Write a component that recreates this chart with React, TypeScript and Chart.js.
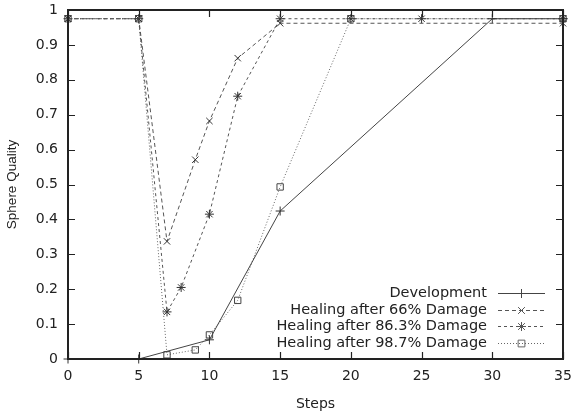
import React, { useEffect, useRef } from "react";
import { Chart, registerables } from "chart.js";

Chart.register(...registerables);

const xTicks = [0, 5, 10, 15, 20, 25, 30, 35];
const yTicks = [0, 0.1, 0.2, 0.3, 0.4, 0.5, 0.6, 0.7, 0.8, 0.9, 1];

const devX = [0, 5, 10, 15, 30, 35];
const devY = [0, 0, 0.055, 0.424, 0.975, 0.975];

const h66X = [0, 5, 7, 9, 10, 12, 15, 35];
const h66Y = [0.975, 0.975, 0.337, 0.571, 0.682, 0.862, 0.962, 0.962];

const h86X = [0, 5, 7, 8, 10, 12, 15, 20, 25, 35];
const h86Y = [0.975, 0.975, 0.135, 0.205, 0.415, 0.753, 0.975, 0.975, 0.975, 0.975];

const h98X = [0, 5, 7, 9, 10, 12, 15, 20, 35];
const h98Y = [0.975, 0.975, 0.012, 0.026, 0.069, 0.168, 0.493, 0.975, 0.975];

const labels = [
  "Development",
  "Healing after 66% Damage",
  "Healing after 86.3% Damage",
  "Healing after 98.7% Damage",
];

const FONT = "'DejaVu Sans', sans-serif";
const FONT_V = "'Liberation Sans', Arial, sans-serif";
const TEXT = "#222";

function pts(xs: number[], ys: number[]) {
  return xs.map((x, i) => ({ x, y: ys[i] }));
}

function drawMarker(ctx: CanvasRenderingContext2D, style: string, x: number, y: number, r: number) {
  ctx.beginPath();
  if (style === "cross" || style === "star") {
    ctx.moveTo(x - r, y);
    ctx.lineTo(x + r, y);
    ctx.moveTo(x, y - r);
    ctx.lineTo(x, y + r);
  }
  if (style === "crossRot" || style === "star") {
    const d = r * 0.75;
    ctx.moveTo(x - d, y - d);
    ctx.lineTo(x + d, y + d);
    ctx.moveTo(x - d, y + d);
    ctx.lineTo(x + d, y - d);
  }
  if (style === "rect") {
    const d = r * 0.75;
    ctx.rect(x - d, y - d, 2 * d, 2 * d);
  }
  ctx.stroke();
}

const framePlugin = {
  id: "frame",
  afterDraw(chart: any) {
    const { ctx, chartArea } = chart;
    const xs = chart.scales.x;
    const ys = chart.scales.y;
    ctx.save();
    ctx.strokeStyle = "#222";
    ctx.lineWidth = 2;
    ctx.setLineDash([]);
    ctx.strokeRect(chartArea.left, chartArea.top, chartArea.right - chartArea.left, chartArea.bottom - chartArea.top);
    ctx.lineWidth = 1.2;
    const tl = 7;
    ctx.beginPath();
    xTicks.forEach((v) => {
      const px = Math.round(xs.getPixelForValue(v)) + 0.5;
      ctx.moveTo(px, chartArea.bottom);
      ctx.lineTo(px, chartArea.bottom - tl);
      ctx.moveTo(px, chartArea.top);
      ctx.lineTo(px, chartArea.top + tl);
    });
    yTicks.forEach((v) => {
      const py = Math.round(ys.getPixelForValue(v)) + 0.5;
      ctx.moveTo(chartArea.left, py);
      ctx.lineTo(chartArea.left + tl, py);
      ctx.moveTo(chartArea.right, py);
      ctx.lineTo(chartArea.right - tl, py);
    });
    ctx.stroke();

    // legend
    const textRight = chartArea.right - 76;
    const lineL = chartArea.right - 65;
    const lineR = chartArea.right - 18;
    const mid = (lineL + lineR) / 2;
    const rowY = [293, 310, 326, 343];
    ctx.font = `14.5px ${FONT}`;
    ctx.fillStyle = TEXT;
    ctx.textAlign = "right";
    ctx.textBaseline = "middle";
    chart.data.datasets.forEach((ds: any, i: number) => {
      const y = rowY[i];
      ctx.fillText(ds.label, textRight, y + 0.5);
      ctx.strokeStyle = ds.borderColor;
      ctx.lineWidth = ds.borderWidth;
      ctx.setLineDash(ds.borderDash || []);
      ctx.beginPath();
      ctx.moveTo(lineL, y + 0.5);
      ctx.lineTo(lineR, y + 0.5);
      ctx.stroke();
      ctx.setLineDash([]);
      ctx.lineWidth = 1;
      drawMarker(ctx, ds.pointStyle, mid, y + 0.5, ds.pointRadius);
    });
    ctx.restore();
  },
};

export default function App() {
  const ref = useRef<HTMLCanvasElement | null>(null);
  useEffect(() => {
    document.body.style.margin = "0";
    const canvas = ref.current!;
    const common = {
      borderWidth: 1,
      pointBorderWidth: 1,
      pointRadius: 4.5,
      pointBackgroundColor: "rgba(0,0,0,0)",
      clip: false as any,
      fill: false,
      tension: 0,
    };
    const chart = new Chart(canvas, {
      type: "line",
      data: {
        datasets: [
          {
            ...common,
            label: labels[0],
            data: pts(devX, devY),
            borderColor: "#444",
            pointBorderColor: "#333",
            pointStyle: "cross",
            borderDash: [],
          },
          {
            ...common,
            label: labels[1],
            data: pts(h66X, h66Y),
            borderColor: "#555",
            pointBorderColor: "#333",
            pointStyle: "crossRot",
            borderDash: [4, 3],
          },
          {
            ...common,
            label: labels[2],
            data: pts(h86X, h86Y),
            borderColor: "#555",
            pointBorderColor: "#333",
            pointStyle: "star",
            borderDash: [3, 3],
          },
          {
            ...common,
            label: labels[3],
            data: pts(h98X, h98Y),
            borderColor: "#666",
            pointBorderColor: "#444",
            pointStyle: "rect",
            borderDash: [1, 2],
          },
        ] as any,
      },
      options: {
        animation: false,
        responsive: false,
        maintainAspectRatio: false,
        layout: { padding: { left: 0, right: 11, top: 10, bottom: 0 } },
        plugins: {
          legend: { display: false },
          tooltip: { enabled: false },
        },
        scales: {
          x: {
            type: "linear",
            min: 0,
            max: 35,
            afterBuildTicks: (s: any) => {
              s.ticks = xTicks.map((v) => ({ value: v }));
            },
            afterFit: (s: any) => {
              s.height = 54;
              s.paddingLeft = 0;
              s.paddingRight = 0;
            },
            grid: { display: false, drawTicks: false },
            border: { display: false },
            ticks: {
              padding: 9,
              color: TEXT,
              font: { family: FONT, size: 14 },
              maxRotation: 0,
              callback: (v: any) => String(v),
            },
            title: {
              display: true,
              text: "Steps",
              color: TEXT,
              font: { family: FONT, size: 14 },
              padding: { top: 2, bottom: 0 },
            },
          },
          y: {
            type: "linear",
            min: 0,
            max: 1,
            afterBuildTicks: (s: any) => {
              s.ticks = yTicks.map((v) => ({ value: v }));
            },
            afterFit: (s: any) => {
              s.width = 68;
              s.paddingTop = 0;
              s.paddingBottom = 0;
            },
            grid: { display: false, drawTicks: false },
            border: { display: false },
            ticks: {
              padding: 10,
              color: TEXT,
              font: { family: FONT, size: 14 },
              callback: (v: any) => String(Math.round(Number(v) * 10) / 10),
            },
            title: {
              display: true,
              text: "Sphere Quality",
              color: TEXT,
              font: { family: FONT_V, size: 13.5 },
              padding: { top: 4, bottom: 0 },
            },
          },
        },
      } as any,
      plugins: [framePlugin],
    });
    return () => chart.destroy();
  }, []);
  return (
    <div style={{ position: "absolute", left: 0, top: 0, width: 574, height: 413 }}>
      <canvas ref={ref} width={574} height={413} style={{ width: 574, height: 413, display: "block" }} />
    </div>
  );
}
